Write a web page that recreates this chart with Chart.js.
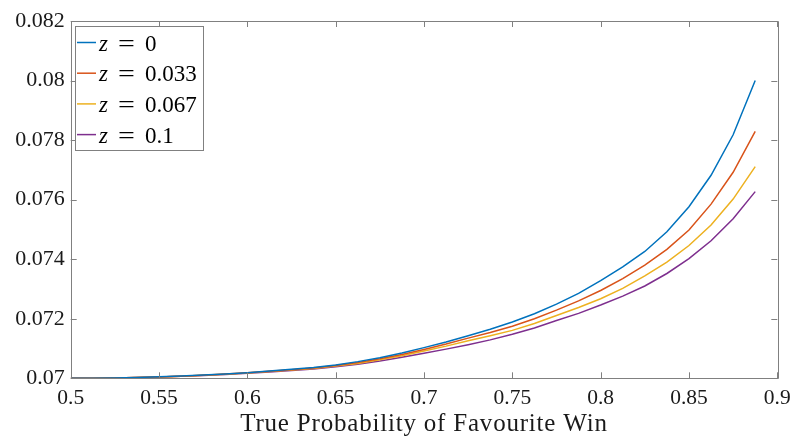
<!DOCTYPE html>
<html>
<head>
<meta charset="utf-8">
<script src="https://cdn.jsdelivr.net/npm/chart.js@4/dist/chart.umd.min.js"></script>
<style>
html,body{margin:0;padding:0;background:#fff;}
#wrap{position:relative;width:794px;height:439px;}
</style>
</head>
<body>
<div id="wrap"><canvas id="c" width="794" height="439"></canvas></div>
<script>
// ---- data ----
const probabilities = [0.5,0.5125,0.525,0.5375,0.55,0.5625,0.575,0.5875,0.6,0.6125,0.625,0.6375,0.65,0.6625,0.675,0.6875,0.7,0.7125,0.725,0.7375,0.75,0.7625,0.775,0.7875,0.8,0.8125,0.825,0.8375,0.85,0.8625,0.875,0.8875];
const zLabels = ['0','0.033','0.067','0.1'];
const seriesZ0 = [0.07,0.070003,0.070012,0.070027,0.070048,0.070075,0.070108,0.070147,0.07019,0.070245,0.0703,0.07036,0.07045,0.07056,0.07069,0.07085,0.07103,0.07122,0.07143,0.07165,0.07189,0.07217,0.07249,0.07285,0.07328,0.07374,0.07426,0.07492,0.07576,0.07682,0.07818,0.08];
const seriesZ033 = [0.07,0.070003,0.070012,0.070027,0.070047,0.070073,0.070105,0.070142,0.070183,0.070235,0.070288,0.070345,0.07043,0.07053,0.070655,0.0708,0.07097,0.07115,0.07135,0.07154,0.07175,0.072,0.07229,0.0726,0.07295,0.07335,0.0738,0.07433,0.07498,0.07585,0.07692,0.07829];
const seriesZ067 = [0.07,0.070003,0.070011,0.070026,0.070046,0.070071,0.070101,0.070137,0.070176,0.070225,0.070275,0.07033,0.07041,0.0705,0.07062,0.07076,0.07092,0.07108,0.07126,0.07143,0.07161,0.07184,0.07211,0.07238,0.07267,0.07302,0.07344,0.0739,0.07446,0.07515,0.07602,0.07711];
const seriesZ1 = [0.07,0.070003,0.070011,0.070025,0.070044,0.070068,0.070097,0.070131,0.070168,0.070213,0.07026,0.07031,0.070385,0.07047,0.07058,0.07071,0.07084,0.07098,0.07113,0.07129,0.07148,0.07169,0.07194,0.07218,0.07246,0.07276,0.0731,0.07352,0.07402,0.07462,0.07536,0.07627];
const xTicks = [0.5,0.55,0.6,0.65,0.7,0.75,0.8,0.85,0.9];
const yTicks = [0.07,0.072,0.074,0.076,0.078,0.08,0.082];
const xTitle = 'True Probability of Favourite Win';
const colors = ['#0072BD','#D95319','#EDB120','#7E2F8E'];

const allSeries = [seriesZ0, seriesZ033, seriesZ067, seriesZ1];
const datasets = allSeries.map((s,i)=>({
  label: 'z = ' + zLabels[i],
  data: probabilities.map((p,j)=>({x:p,y:s[j]})),
  borderColor: colors[i],
  backgroundColor: colors[i],
  borderWidth: 1.5,
  pointRadius: 0,
  tension: 0,
  fill: false
}));

const FONT = "'Liberation Serif', 'Times New Roman', serif";
const AXIS = '#808080';
const TEXT = '#1a1a1a';
const fmt = v => String(parseFloat(v.toFixed(4)));

const boxTicks = {
  id: 'boxTicks',
  afterDraw(chart) {
    const {ctx, chartArea: a, scales} = chart;
    ctx.save();
    ctx.strokeStyle = AXIS;
    ctx.lineWidth = 1;
    ctx.beginPath();
    ctx.rect(Math.round(a.left)+0.5, Math.round(a.top)+0.5, Math.round(a.right-a.left), Math.round(a.bottom-a.top));
    ctx.stroke();
    const L = 6;
    ctx.beginPath();
    xTicks.forEach(v=>{
      const x = Math.round(scales.x.getPixelForValue(v))+0.5;
      ctx.moveTo(x, a.bottom); ctx.lineTo(x, a.bottom-L);
      ctx.moveTo(x, a.top); ctx.lineTo(x, a.top+L);
    });
    yTicks.forEach(v=>{
      const y = Math.round(scales.y.getPixelForValue(v))+0.5;
      ctx.moveTo(a.left, y); ctx.lineTo(a.left+L, y);
      ctx.moveTo(a.right, y); ctx.lineTo(a.right-L, y);
    });
    ctx.stroke();
    // x tick labels
    ctx.fillStyle = TEXT;
    ctx.font = "21.5px " + FONT;
    ctx.textAlign = 'center';
    ctx.textBaseline = 'alphabetic';
    xTicks.forEach(v=>{
      ctx.fillText(fmt(v), scales.x.getPixelForValue(v), 404);
    });
    // x axis title
    ctx.font = "25px " + FONT;
    try { ctx.letterSpacing = '0.8px'; } catch(e) {}
    ctx.fillText(xTitle, (a.left + a.right)/2, 430.5);
    try { ctx.letterSpacing = '0px'; } catch(e) {}
    // legend
    const lx = 75.5, ly = 26.5, lw = 128, lh = 124;
    ctx.fillStyle = '#fff';
    ctx.fillRect(lx, ly, lw, lh);
    ctx.strokeStyle = AXIS;
    ctx.strokeRect(lx, ly, lw, lh);
    chart.data.datasets.forEach((d,i)=>{
      const cy = 42.5 + i*30.7;
      ctx.strokeStyle = d.borderColor;
      ctx.lineWidth = 1.5;
      ctx.beginPath(); ctx.moveTo(77, cy); ctx.lineTo(96, cy); ctx.stroke();
      ctx.fillStyle = '#000';
      ctx.textBaseline = 'alphabetic';
      ctx.textAlign = 'left';
      const base = cy + 8;
      ctx.font = "italic 23px " + FONT;
      ctx.fillText('z', 99, base);
      ctx.font = "23px " + FONT;
      ctx.save();
      ctx.translate(118, base);
      ctx.scale(1.3, 1);
      ctx.fillText('=', 0, 0);
      ctx.restore();
      ctx.fillText(zLabels[i], 145, base);
    });
    ctx.restore();
  }
};

new Chart(document.getElementById('c'), {
  type: 'line',
  data: { datasets },
  options: {
    responsive: false,
    animation: false,
    devicePixelRatio: 1,
    layout: { padding: { top: 21, right: 16.7, left: 0, bottom: 0 } },
    plugins: { legend: { display: false }, tooltip: { enabled: false } },
    scales: {
      x: {
        type: 'linear', min: 0.5, max: 0.9,
        afterBuildTicks: s => { s.ticks = xTicks.map(v=>({value:v})); },
        afterFit: s => { s.height = 439 - 378.3; },
        grid: { display: false, drawTicks: false },
        border: { display: false },
        ticks: { display: false }
      },
      y: {
        type: 'linear', min: 0.07, max: 0.082,
        afterBuildTicks: s => { s.ticks = yTicks.map(v=>({value:v})); },
        afterFit: s => { s.width = 70.7; },
        grid: { display: false, drawTicks: false },
        border: { display: false },
        ticks: { color: TEXT, font: { family: FONT, size: 22 }, padding: 6, callback: v => fmt(v) }
      }
    }
  },
  plugins: [boxTicks]
});
</script>
</body>
</html>
